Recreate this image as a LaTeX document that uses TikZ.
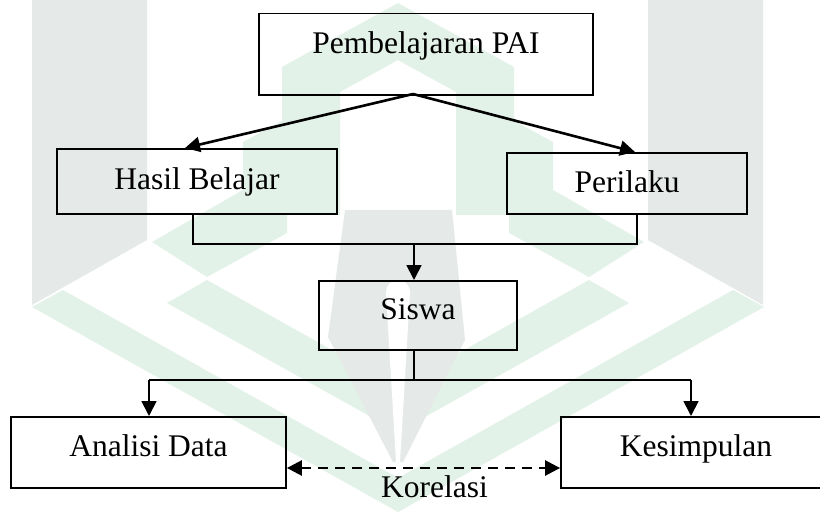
\documentclass[tikz,border=0pt]{standalone}
\usepackage{fontspec}
\setmainfont{Liberation Serif}
\usetikzlibrary{arrows.meta}
\definecolor{wmgreen}{RGB}{227,242,233}
\definecolor{wmgray}{RGB}{229,234,232}
\tikzset{
  box/.style={draw=black, line width=1.8pt, inner xsep=0pt, inner ysep=0pt, anchor=north, font=\fontsize{31.5}{31.5}\selectfont},
  lbl/.style={inner sep=0pt, anchor=base, font=\fontsize{31.5}{31.5}\selectfont},
  conn/.style={draw=black, line width=1.8pt},
  arr/.style={draw=black, line width=2.6pt, -{Triangle[length=15pt,width=15pt]}},
  arrthin/.style={draw=black, line width=1.8pt, -{Triangle[length=15pt,width=15pt]}},
  darr/.style={draw=black, line width=2.6pt, dash pattern=on 10pt off 7pt, {Triangle[length=15pt,width=15pt]}-{Triangle[length=15pt,width=15pt]}},
}
\begin{document}
\begin{tikzpicture}[x=1pt,y=-1pt]
\useasboundingbox (0,0) rectangle (820,516);
\clip (0,0) rectangle (820,516);
\fill[white] (0,0) rectangle (820,516);
% watermark
\fill[wmgray] (32,0) -- (147,0) -- (147,240) -- (32,305) -- cycle;
\fill[wmgray] (648,0) -- (763,0) -- (763,305) -- (648,240) -- cycle;
\fill[wmgreen] (282,215) -- (282,67) -- (398,3) -- (514,67) -- (514,215) -- (456,215) -- (456,92) -- (398,60) -- (340,92) -- (340,215) -- cycle;
\fill[wmgreen] (152,242) -- (243,190) -- (243,142) -- (287,118) -- (287,233) -- (207,277) -- cycle;
\fill[wmgreen] (644,242) -- (553,190) -- (553,142) -- (509,118) -- (509,233) -- (589,277) -- cycle;
\fill[wmgreen] (32,307) -- (63,290) -- (398,478) -- (733,290) -- (764,307) -- (398,512) -- cycle;
\fill[wmgreen] (167,303) -- (207,280) -- (398,387) -- (589,280) -- (629,303) -- (398,432) -- cycle;
\fill[wmgray] (345,210) -- (452,210) -- (465,340) -- (403,462) -- (393,462) -- (328,337) -- cycle;
\fill[white] (398,292) circle[radius=12];
\fill[white] (386,292) -- (410,292) -- (400,462) -- (396,462) -- cycle;
% nodes
\node[box, minimum width=334pt, text height=40.3pt, text depth=41pt] (pai) at (426,12.7) {Pembelajaran PAI};
\node[box, minimum width=280pt, text height=41pt, text depth=24pt] (hasil) at (197,148) {Hasil Belajar};
\node[box, minimum width=240pt, text height=40pt, text depth=21pt] (perilaku) at (627,152) {Perilaku};
\node[box, minimum width=198pt, text height=39pt, text depth=30pt] (siswa) at (418,280) {Siswa};
\node[box, minimum width=275pt, text height=40pt, text depth=31pt] (analisi) at (148.5,416) {Analisi Data};
\node[box, minimum width=270pt, text height=40pt, text depth=31pt] (kesimpulan) at (696,416) {Kesimpulan};
\node[lbl] (korelasi) at (434.5,497) {Korelasi};
% coordinates
\coordinate (pa) at (413,94);
\coordinate (ha) at (185,0);
\coordinate (pe) at (635,0);
\coordinate (jl) at (193,244);
\coordinate (jr) at (637,244);
\coordinate (jm) at (414,244);
\coordinate (sm) at (414,380);
\coordinate (sl) at (149,380);
\coordinate (sr) at (691,380);
\coordinate (dy) at (0,468);
% connectors
\draw[arr] (pa) -- (hasil.north -| ha);
\draw[arr] (pa) -- (perilaku.north -| pe);
\draw[conn] (hasil.south -| jl) -- (jl) -- (jr) -- (perilaku.south -| jr);
\draw[arrthin] (jm) -- (siswa.north -| jm);
\draw[conn] (siswa.south -| sm) -- (sm);
\draw[conn] (sl) -- (sr);
\draw[arrthin] (sl) -- (analisi.north -| sl);
\draw[arrthin] (sr) -- (kesimpulan.north -| sr);
\draw[darr] (analisi.east |- dy) -- (kesimpulan.west |- dy);
\end{tikzpicture}
\end{document}
